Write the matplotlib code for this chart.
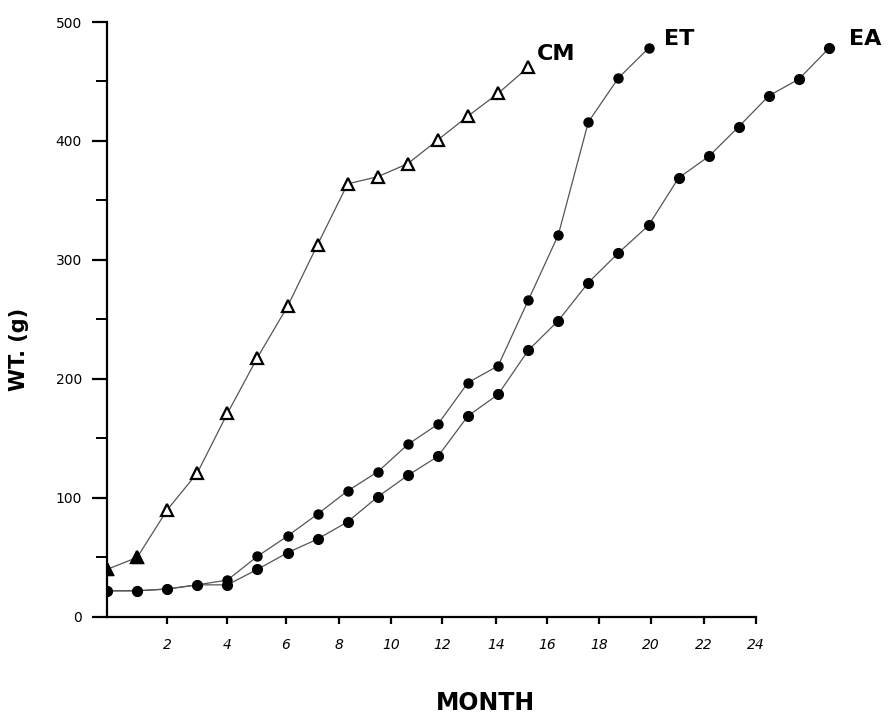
import matplotlib.pyplot as plt

# growth data (month, weight in g)
months_cm = [0, 1, 2, 3, 4, 5, 6, 7, 8, 9, 10, 11, 12, 13, 14]
wt_cm = [40, 50, 90, 121, 171, 218, 261, 313, 364, 370, 381, 401, 421, 440, 462]

months_et = [0, 1, 2, 3, 4, 5, 6, 7, 8, 9, 10, 11, 12, 13, 14, 15, 16, 17, 18]
wt_et = [22, 22, 23.5, 27, 31, 51, 68, 86.5, 106, 122, 145, 162, 197, 211, 266, 321, 416, 453, 478]

months_ea = list(range(0, 25))
wt_ea = [22, 22, 23.5, 27, 27, 40, 54, 65.5, 80, 101, 119, 135, 169, 187, 224,
         249, 281, 306, 329, 369, 387, 412, 438, 452, 478]

# the printed month axis is not evenly spaced against the data
xtick_labels = ['2', '4', '6', '8', '10', '12', '14', '16', '18', '20', '22', '24']
xtick_pos = [2.0, 4.0, 5.95, 7.71, 9.44, 11.13, 12.92, 14.62, 16.35, 18.07, 19.83, 21.56]

fig = plt.figure(figsize=(8.92, 7.19), dpi=100)
ax = fig.add_axes([0.12, 0.1419, 0.833, 0.8275])

line_kw = dict(color='#555555', lw=0.9)
ax.plot(months_cm, wt_cm, marker='^', ms=8, mfc='white', mec='black', mew=1.6, **line_kw)
ax.plot(months_cm[:2], wt_cm[:2], '^', ms=8.5, color='black', mec='black')
ax.plot(months_et, wt_et, marker='o', ms=6.5, mfc='black', mec='black', **line_kw)
ax.plot(months_ea, wt_ea, marker='o', ms=7, mfc='black', mec='black', **line_kw)

# curve labels
ax.text(14.3, 473, 'CM', fontsize=16, fontweight='bold', va='center', ha='left')
ax.text(18.5, 486, 'ET', fontsize=16, fontweight='bold', va='center', ha='left')
ax.text(24.65, 486, 'EA', fontsize=16, fontweight='bold', va='center', ha='left')

ax.set_xlim(0, 24.7)
ax.set_ylim(0, 500)
ax.spines['top'].set_visible(False)
ax.spines['right'].set_visible(False)
ax.spines['left'].set_linewidth(1.6)
ax.spines['bottom'].set_linewidth(1.6)
ax.spines['bottom'].set_bounds(0, xtick_pos[-1])

ax.set_yticks([0, 100, 200, 300, 400, 500])
ax.set_yticks([50, 150, 250, 350, 450], minor=True)
ax.tick_params(axis='y', which='major', length=11, width=1.6, labelsize=10, pad=7)
ax.tick_params(axis='y', which='minor', length=8, width=1.4)

ax.set_xticks(xtick_pos)
ax.set_xticklabels(xtick_labels, fontstyle='italic')
ax.tick_params(axis='x', which='major', length=5, width=1.6, labelsize=10, pad=10)

ax.set_ylabel('WT. (g)', fontsize=15, fontweight='bold', labelpad=18)
ax.set_xlabel('MONTH', fontsize=17, fontweight='bold')
ax.xaxis.set_label_coords((485 - 107) / 743, -0.125)
ax.yaxis.set_label_coords(-0.105, 0.45)

plt.savefig('out.png', dpi=100)
